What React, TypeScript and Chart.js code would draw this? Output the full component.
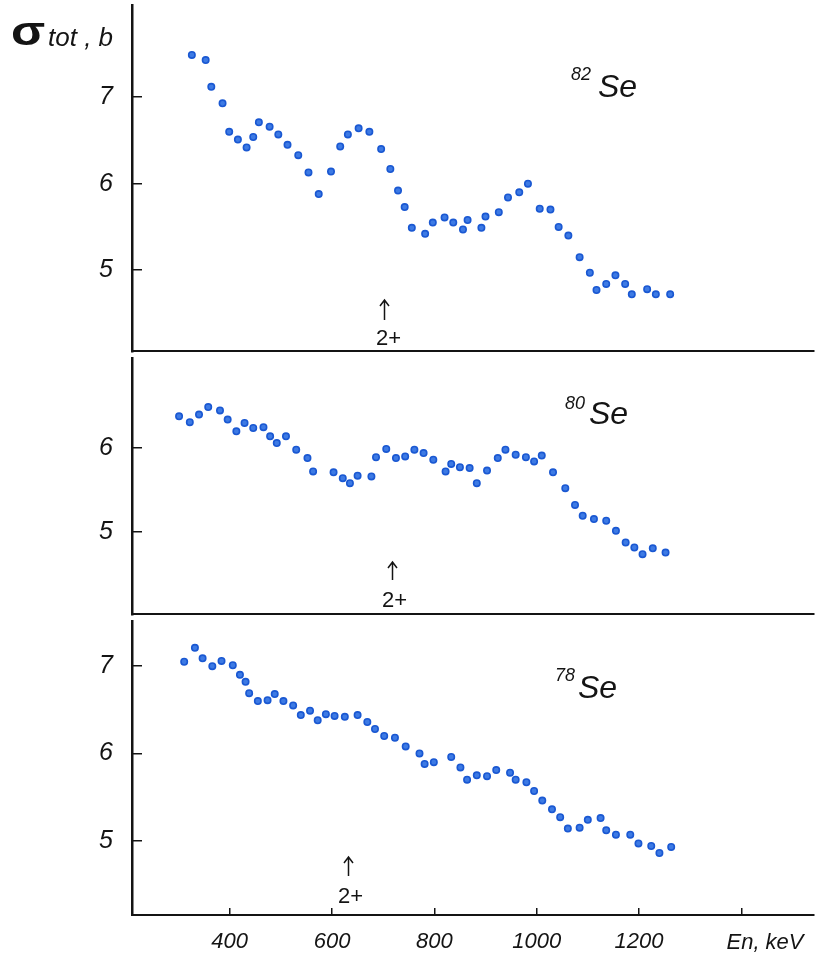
import React, { useEffect, useRef } from 'react';
import { Chart, registerables } from 'chart.js';

Chart.register(...registerables);

// Total neutron cross sections of the Se isotopes (barn) vs neutron energy (keV)
const energy82 = [326, 353, 364, 386, 399, 416, 433, 446, 457, 478, 495, 513, 534, 554, 574, 598, 616, 631, 652, 673, 696, 714, 729, 742, 756, 782, 797, 820, 837, 856, 865, 892, 900, 926, 944, 966, 983, 1006, 1027, 1043, 1062, 1084, 1104, 1117, 1136, 1154, 1173, 1186, 1216, 1233, 1261];
const sigma82 = [7.49, 7.43, 7.12, 6.93, 6.6, 6.51, 6.42, 6.54, 6.71, 6.66, 6.57, 6.45, 6.33, 6.13, 5.88, 6.14, 6.43, 6.57, 6.64, 6.6, 6.4, 6.17, 5.92, 5.73, 5.49, 5.42, 5.55, 5.61, 5.55, 5.47, 5.58, 5.49, 5.62, 5.67, 5.84, 5.9, 6.0, 5.71, 5.7, 5.5, 5.4, 5.15, 4.97, 4.77, 4.84, 4.94, 4.84, 4.72, 4.78, 4.72, 4.72];

const energy80 = [301, 322, 340, 358, 381, 396, 413, 429, 446, 466, 479, 492, 510, 530, 552, 563, 603, 621, 635, 650, 677, 686, 706, 725, 743, 761, 779, 798, 822, 833, 850, 869, 883, 903, 924, 939, 959, 979, 995, 1010, 1032, 1056, 1075, 1090, 1112, 1136, 1155, 1174, 1191, 1207, 1227, 1252];
const sigma80 = [6.38, 6.31, 6.4, 6.49, 6.45, 6.34, 6.2, 6.3, 6.24, 6.25, 6.14, 6.06, 6.14, 5.98, 5.88, 5.72, 5.71, 5.64, 5.58, 5.67, 5.66, 5.89, 5.99, 5.88, 5.9, 5.98, 5.94, 5.86, 5.72, 5.81, 5.77, 5.76, 5.58, 5.73, 5.88, 5.98, 5.92, 5.89, 5.84, 5.91, 5.71, 5.52, 5.32, 5.19, 5.15, 5.13, 5.01, 4.87, 4.81, 4.73, 4.8, 4.75];

const energy78 = [311, 332, 347, 366, 384, 406, 420, 431, 438, 455, 474, 488, 505, 524, 539, 557, 572, 588, 605, 625, 650, 669, 684, 702, 723, 744, 771, 781, 799, 833, 851, 864, 883, 903, 921, 948, 959, 980, 995, 1011, 1030, 1046, 1061, 1084, 1100, 1125, 1136, 1155, 1183, 1199, 1224, 1240, 1263];
const sigma78 = [7.05, 7.21, 7.09, 7.0, 7.06, 7.01, 6.9, 6.82, 6.69, 6.6, 6.61, 6.68, 6.6, 6.55, 6.44, 6.49, 6.38, 6.45, 6.43, 6.42, 6.44, 6.36, 6.28, 6.2, 6.18, 6.08, 6.0, 5.88, 5.9, 5.96, 5.84, 5.7, 5.75, 5.74, 5.81, 5.78, 5.7, 5.67, 5.57, 5.46, 5.36, 5.27, 5.14, 5.15, 5.24, 5.26, 5.12, 5.07, 5.07, 4.97, 4.94, 4.86, 4.93];

// First 2+ level position marked in each panel (keV)
const level82 = 702;
const level80 = 718;
const level78 = 632;

const xTickValues = [400, 600, 800, 1000, 1200, 1400];
const yTicks82 = [5, 6, 7];
const yTicks80 = [5, 6];
const yTicks78 = [5, 6, 7];

const FONT = "'Liberation Sans', Arial, sans-serif";
const INK = '#141414';
const DOT_FILL = '#3d7ae4';
const DOT_EDGE = '#1a58d2';

type TextOpts = {
  offsetTop: number;
  mass: string;
  massX: number;
  massY: number;
  symX: number;
  symY: number;
  levelE: number;
  arrowTip: number;
  arrowBase: number;
  levelTextY: number;
  levelTextDx: number;
  title?: boolean;
  xTitle?: boolean;
};

const panelText = {
  id: 'panelText',
  afterDraw(chart: any, _args: any, opts: TextOpts) {
    const ctx = chart.ctx as CanvasRenderingContext2D;
    const off = opts.offsetTop;
    ctx.save();
    ctx.fillStyle = INK;
    ctx.strokeStyle = INK;
    ctx.textBaseline = 'alphabetic';
    ctx.textAlign = 'left';

    if (opts.title) {
      ctx.save();
      ctx.translate(11, 45 - off);
      ctx.scale(1.25, 1);
      ctx.font = `bold 40px ${FONT}`;
      ctx.fillText('σ', 0, 0);
      ctx.restore();
      ctx.font = `italic 26px ${FONT}`;
      ctx.fillText('tot , b', 48, 46 - off);
    }

    // isotope label
    ctx.font = `italic 18px ${FONT}`;
    ctx.fillText(opts.mass, opts.massX, opts.massY - off);
    ctx.font = `italic 32px ${FONT}`;
    ctx.fillText('Se', opts.symX, opts.symY - off);

    // arrow marking the 2+ level
    const ax = Math.round(chart.scales.x.getPixelForValue(opts.levelE)) + 0.5;
    const tip = opts.arrowTip - off;
    const base = opts.arrowBase - off;
    ctx.lineWidth = 1.5;
    ctx.beginPath();
    ctx.moveTo(ax, base);
    ctx.lineTo(ax, tip);
    ctx.moveTo(ax - 4.5, tip + 6);
    ctx.lineTo(ax, tip);
    ctx.lineTo(ax + 4.5, tip + 6);
    ctx.stroke();
    ctx.font = `22px ${FONT}`;
    ctx.textAlign = 'center';
    ctx.fillText('2+', ax + opts.levelTextDx, opts.levelTextY - off);

    if (opts.xTitle) {
      ctx.font = `italic 22px ${FONT}`;
      ctx.textAlign = 'center';
      ctx.fillText('En, keV', 765, 949 - off);
    }
    ctx.restore();
  },
};

type PanelProps = {
  top: number;
  height: number;
  padTop: number;
  padBottom: number;
  yMin: number;
  yMax: number;
  yTicks: number[];
  energies: number[];
  sigmas: number[];
  showX: boolean;
  text: TextOpts;
};

// scales keep their own padding out of the layout so every panel lines up
const noScalePadding = (s: any) => {
  s.paddingTop = 0;
  s.paddingBottom = 0;
  s.paddingLeft = 0;
  s.paddingRight = 0;
};

function Panel(p: PanelProps) {
  const ref = useRef<HTMLCanvasElement | null>(null);

  useEffect(() => {
    if (!ref.current) return;
    const points = p.energies.map((e, i) => ({ x: e, y: p.sigmas[i] }));
    const chart = new Chart(ref.current, {
      type: 'scatter',
      data: {
        datasets: [
          {
            data: points,
            pointRadius: 3.2,
            pointBorderWidth: 1.6,
            backgroundColor: DOT_FILL,
            borderColor: DOT_EDGE,
          },
        ],
      },
      options: {
        responsive: false,
        animation: false,
        events: [],
        layout: { padding: { top: p.padTop, bottom: p.padBottom, left: 0, right: 4 } },
        plugins: {
          legend: { display: false },
          tooltip: { enabled: false },
          panelText: p.text,
        } as any,
        scales: {
          x: {
            type: 'linear',
            min: 209,
            max: 1541,
            afterBuildTicks: (s: any) => {
              s.ticks = xTickValues.map((v) => ({ value: v }));
            },
            afterFit: (s: any) => {
              s.height = p.showX ? 40 : 0;
              noScalePadding(s);
            },
            border: { color: INK, width: 2 },
            grid: {
              display: true,
              drawOnChartArea: false,
              drawTicks: p.showX,
              tickLength: -7,
              color: INK,
              lineWidth: 1.5,
            },
            ticks: {
              display: p.showX,
              padding: 21,
              color: INK,
              maxRotation: 0,
              autoSkip: false,
              font: { family: FONT, size: 22, style: 'italic' },
              callback: (v: any) => (v === 1400 ? '' : String(v)),
            },
          },
          y: {
            type: 'linear',
            min: p.yMin,
            max: p.yMax,
            afterBuildTicks: (s: any) => {
              s.ticks = p.yTicks.map((v) => ({ value: v }));
            },
            afterFit: (s: any) => {
              s.width = 132;
              noScalePadding(s);
            },
            border: { color: INK, width: 2.5 },
            grid: {
              drawOnChartArea: false,
              drawTicks: true,
              tickLength: -10,
              color: INK,
              lineWidth: 1.5,
            },
            ticks: {
              padding: 29,
              color: INK,
              font: { family: FONT, size: 25, style: 'italic' },
            },
          },
        },
      },
      plugins: [panelText],
    } as any);
    return () => chart.destroy();
  }, []);

  return (
    <canvas
      ref={ref}
      width={819}
      height={p.height}
      style={{ position: 'absolute', left: 0, top: p.top, width: 819, height: p.height }}
    />
  );
}

export default function App() {
  return (
    <div
      style={{
        position: 'fixed',
        left: 0,
        top: 0,
        width: 819,
        height: 955,
        background: '#ffffff',
        overflow: 'hidden',
      }}
    >
      <Panel
        top={0}
        height={357}
        padTop={5}
        padBottom={2}
        yMin={4.06}
        yMax={8.06}
        yTicks={yTicks82}
        energies={energy82}
        sigmas={sigma82}
        showX={false}
        text={{
          offsetTop: 0,
          mass: '82',
          massX: 571,
          massY: 80,
          symX: 598,
          symY: 97,
          levelE: level82,
          arrowTip: 300,
          arrowBase: 320,
          levelTextY: 345,
          levelTextDx: 4,
          title: true,
        }}
      />
      <Panel
        top={353}
        height={267}
        padTop={2}
        padBottom={2}
        yMin={4.01}
        yMax={7.07}
        yTicks={yTicks80}
        energies={energy80}
        sigmas={sigma80}
        showX={false}
        text={{
          offsetTop: 353,
          mass: '80',
          massX: 565,
          massY: 409,
          symX: 589,
          symY: 424,
          levelE: level80,
          arrowTip: 562,
          arrowBase: 580,
          levelTextY: 607,
          levelTextDx: 2,
        }}
      />
      <Panel
        top={616}
        height={339}
        padTop={2}
        padBottom={0}
        yMin={4.15}
        yMax={7.51}
        yTicks={yTicks78}
        energies={energy78}
        sigmas={sigma78}
        showX={true}
        text={{
          offsetTop: 616,
          mass: '78',
          massX: 555,
          massY: 681,
          symX: 578,
          symY: 698,
          levelE: level78,
          arrowTip: 857,
          arrowBase: 876,
          levelTextY: 903,
          levelTextDx: 2,
          xTitle: true,
        }}
      />
    </div>
  );
}
